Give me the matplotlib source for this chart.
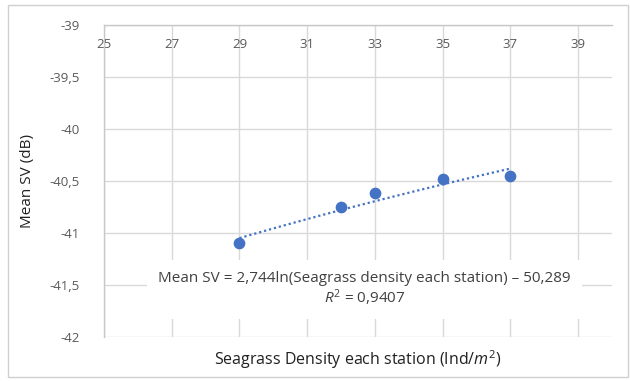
import numpy as np
import matplotlib
matplotlib.use("Agg")
import matplotlib.pyplot as plt

plt.rcParams['font.family'] = ['Open Sans', 'DejaVu Sans']
plt.rcParams['mathtext.fontset'] = 'custom'
plt.rcParams['mathtext.it'] = 'Open Sans:italic'
plt.rcParams['mathtext.rm'] = 'Open Sans'

# datos
densidad = [29, 32, 33, 35, 37]
mean_sv = [-41.10, -40.75, -40.62, -40.48, -40.45]
coef_a = 2.744
coef_b = -50.289
r2 = 0.9407

x_ticks = [25, 27, 29, 31, 33, 35, 37, 39]
y_ticks = [-39, -39.5, -40, -40.5, -41, -41.5, -42]
y_labels = ["-39", "-39,5", "-40", "-40,5", "-41", "-41,5", "-42"]

azul = "#4472C4"
gris = "#d9d9d9"

fig = plt.figure(figsize=(6.3, 3.81), dpi=100)
ax = fig.add_axes([104 / 630, 1 - 337 / 381, (612 - 104) / 630, (337 - 25) / 381])

# borde exterior
fig.patches.append(plt.Rectangle((8 / 630, 4 / 381), 620 / 630, 372 / 381,
                                 transform=fig.transFigure, fill=False,
                                 edgecolor="#d0d0d0", linewidth=1))

ax.set_xlim(25, 40)
ax.set_ylim(-42, -39)
ax.set_xticks(x_ticks)
ax.set_yticks(y_ticks)
ax.set_yticklabels(y_labels)
ax.grid(True, color=gris, linewidth=1)
ax.set_axisbelow(True)

for lado in ["right", "bottom"]:
    ax.spines[lado].set_visible(False)
for lado in ["left", "top"]:
    ax.spines[lado].set_color("#c8c8c8")
    ax.spines[lado].set_linewidth(1)

ax.tick_params(axis='x', top=False, bottom=False, labeltop=True,
               labelbottom=False, pad=-22, labelsize=9.5, labelcolor="#595959")
ax.tick_params(axis='y', left=False, pad=14, labelsize=9.5, labelcolor="#595959")

# linea de tendencia logaritmica
xt = np.linspace(min(densidad), max(densidad), 100)
yt = coef_a * np.log(xt) + coef_b
ax.plot(xt, yt, linestyle=(0, (1, 1.3)), color=azul, linewidth=1.6)

ax.scatter(densidad, mean_sv, s=55, color=azul, zorder=3)

ax.text(32.7, -41.54,
        "Mean SV = 2,744ln(Seagrass density each station) – 50,289\n"
        f"$R^2$ = {str(r2).replace('.', ',')}",
        ha="center", va="center", multialignment="center", fontsize=11,
        color="#404040", linespacing=1.1, zorder=4,
        bbox=dict(facecolor="white", edgecolor="none", pad=8))

ax.set_ylabel("Mean SV (dB)", fontsize=11, color="#202020", labelpad=10)
ax.set_xlabel("Seagrass Density each station (Ind/$m^2$)", fontsize=11.5,
              color="#202020", labelpad=8)

fig.savefig("out.png", dpi=100)
